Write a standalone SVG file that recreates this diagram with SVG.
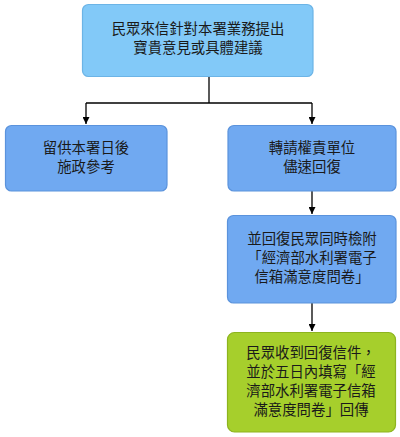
<svg xmlns="http://www.w3.org/2000/svg" width="400" height="437" viewBox="0 0 400 437">
<defs>
<style>
.t{font-family:"Noto Sans CJK TC","Noto Sans CJK SC",sans-serif;font-size:14.4px;fill:#1a1a1a;text-anchor:middle}
.ln{stroke:#000;stroke-width:1.3;fill:none}
.b1{fill:#82c9f8;stroke:#6cb4e6;stroke-width:1.2}
.b2{fill:#70a9f1;stroke:#5b93dc;stroke-width:1.2}
.b3{fill:#a6cf2c;stroke:#8db41e;stroke-width:1.2}
</style>
<marker id="ah" viewBox="0 0 10 10" refX="10" refY="5" markerWidth="7" markerHeight="7" markerUnits="userSpaceOnUse" orient="auto">
<path d="M0,0 L10,5 L0,10 z" fill="#000"/>
</marker>
</defs>
<g id="connectors">
<path class="ln" d="M209,77 V103"/>
<path class="ln" d="M86,103 H312"/>
<path class="ln" d="M86,103 V124" marker-end="url(#ah)"/>
<path class="ln" d="M312,103 V124" marker-end="url(#ah)"/>
<path class="ln" d="M312,191 V214" marker-end="url(#ah)"/>
<path class="ln" d="M312,303 V331" marker-end="url(#ah)"/>
</g>
<g id="n1">
<rect class="b1" x="82.5" y="4.5" width="230.5" height="72" rx="6"/>
<text class="t" x="198" y="33.5">民眾來信針對本署業務提出<tspan x="198" dy="19">寶貴意見或具體建議</tspan></text>
</g>
<g id="n2">
<rect class="b2" x="5.5" y="125.5" width="161.5" height="65.5" rx="6"/>
<text class="t" x="86" y="153">留供本署日後<tspan x="86" dy="19">施政參考</tspan></text>
</g>
<g id="n3">
<rect class="b2" x="228" y="125.5" width="168" height="65.5" rx="6"/>
<text class="t" x="312" y="153">轉請權責單位<tspan x="312" dy="19">儘速回復</tspan></text>
</g>
<g id="n4">
<rect class="b2" x="227.5" y="215.5" width="168.5" height="87.5" rx="6"/>
<text class="t" x="312" y="244">並回復民眾同時檢附<tspan x="312" dy="19">「經濟部水利署電子</tspan><tspan x="312" dy="19">信箱滿意度問卷」</tspan></text>
</g>
<g id="n5">
<rect class="b3" x="227.5" y="332.5" width="168" height="99.5" rx="7"/>
<text class="t" x="311" y="357.5">民眾收到回復信件，<tspan x="311" dy="19">並於五日內填寫「經</tspan><tspan x="311" dy="19">濟部水利署電子信箱</tspan><tspan x="311" dy="19">滿意度問卷」回傳</tspan></text>
</g>
</svg>
